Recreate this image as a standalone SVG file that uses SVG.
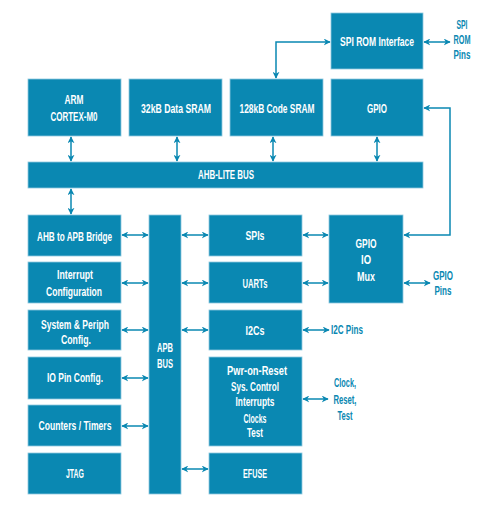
<svg xmlns="http://www.w3.org/2000/svg" width="500" height="511" viewBox="0 0 500 511">
<defs>
<marker id="ah" viewBox="0 0 10 10" refX="9" refY="5" markerWidth="7" markerHeight="7" markerUnits="userSpaceOnUse" orient="auto-start-reverse">
<path d="M0,0 L10,5 L0,10 L3,5 Z" fill="#0a88b2"/>
</marker>
</defs>
<style>
.b{fill:#0a88b2;stroke:#8ec9df;stroke-width:0.8}
.t{font-family:"Liberation Sans",Arial,sans-serif;font-size:12.5px;font-weight:bold;fill:#ffffff;text-anchor:middle}
.o{font-family:"Liberation Sans",Arial,sans-serif;font-size:12.5px;font-weight:bold;fill:#0a88b2;text-anchor:middle}
.c{fill:none;stroke:#0a88b2;stroke-width:1.5}
.d{marker-start:url(#ah);marker-end:url(#ah)}
</style>
<g id="connectors">
<path class="c d" d="M71,137 V161"/>
<path class="c d" d="M177,137 V161"/>
<path class="c d" d="M273,137 V161"/>
<path class="c d" d="M377,137 V161"/>
<path class="c d" d="M71,189 V214"/>
<path class="c d" d="M276,78 V42 H330"/>
<path class="c d" d="M424,42 H450"/>
<path class="c d" d="M424,108 H450 V235 H404"/>
<path class="c d" d="M122,235 H148"/>
<path class="c d" d="M122,283 H148"/>
<path class="c d" d="M122,330 H148"/>
<path class="c d" d="M122,378 H148"/>
<path class="c d" d="M122,426 H148"/>
<path class="c d" d="M182,235 H208"/>
<path class="c d" d="M182,283 H208"/>
<path class="c d" d="M182,330 H208"/>
<path class="c d" d="M182,469 H208"/>
<path class="c d" d="M303,235 H328"/>
<path class="c d" d="M303,283 H328"/>
<path class="c d" d="M404,283 H430"/>
<path class="c d" d="M303,330 H329"/>
<path class="c d" d="M303,399 H328"/>
</g>
<g id="spirom"><rect class="b" x="331" y="13" width="92" height="56"/><text class="t" x="377" y="46" textLength="74" lengthAdjust="spacingAndGlyphs">SPI ROM Interface</text></g>
<g id="arm"><rect class="b" x="28" y="79" width="93" height="57"/><text class="t" x="74" y="104" textLength="19" lengthAdjust="spacingAndGlyphs">ARM</text><text class="t" x="74" y="121" textLength="47" lengthAdjust="spacingAndGlyphs">CORTEX-M0</text></g>
<g id="dsram"><rect class="b" x="129" y="79" width="93" height="57"/><text class="t" x="176" y="113" textLength="70" lengthAdjust="spacingAndGlyphs">32kB Data SRAM</text></g>
<g id="csram"><rect class="b" x="230" y="79" width="93" height="57"/><text class="t" x="277" y="113" textLength="75" lengthAdjust="spacingAndGlyphs">128kB Code SRAM</text></g>
<g id="gpio"><rect class="b" x="331" y="79" width="92" height="57"/><text class="t" x="377" y="113" textLength="20" lengthAdjust="spacingAndGlyphs">GPIO</text></g>
<g id="ahb"><rect class="b" x="28" y="162" width="395" height="26"/><text class="t" x="226" y="179" textLength="56" lengthAdjust="spacingAndGlyphs">AHB-LITE BUS</text></g>
<g id="bridge"><rect class="b" x="28" y="215" width="93" height="41"/><text class="t" x="74.5" y="241" textLength="75" lengthAdjust="spacingAndGlyphs">AHB to APB Bridge</text></g>
<g id="intcfg"><rect class="b" x="28" y="262" width="93" height="41"/><text class="t" x="75" y="279" textLength="36" lengthAdjust="spacingAndGlyphs">Interrupt</text><text class="t" x="74" y="296" textLength="56" lengthAdjust="spacingAndGlyphs">Configuration</text></g>
<g id="syscfg"><rect class="b" x="28" y="310" width="93" height="40"/><text class="t" x="75" y="329" textLength="68" lengthAdjust="spacingAndGlyphs">System &amp; Periph</text><text class="t" x="76" y="344" textLength="30" lengthAdjust="spacingAndGlyphs">Config.</text></g>
<g id="iopin"><rect class="b" x="28" y="357" width="93" height="42"/><text class="t" x="75" y="382" textLength="56" lengthAdjust="spacingAndGlyphs">IO Pin Config.</text></g>
<g id="timers"><rect class="b" x="28" y="405" width="93" height="41"/><text class="t" x="75" y="430" textLength="73" lengthAdjust="spacingAndGlyphs">Counters / Timers</text></g>
<g id="jtag"><rect class="b" x="28" y="453" width="93" height="41"/><text class="t" x="75" y="478" textLength="18" lengthAdjust="spacingAndGlyphs">JTAG</text></g>
<g id="apb"><rect class="b" x="149" y="215" width="32" height="279"/><text class="t" x="165" y="352" textLength="16" lengthAdjust="spacingAndGlyphs">APB</text><text class="t" x="165" y="368" textLength="16" lengthAdjust="spacingAndGlyphs">BUS</text></g>
<g id="spis"><rect class="b" x="209" y="215" width="93" height="41"/><text class="t" x="255" y="240" textLength="19" lengthAdjust="spacingAndGlyphs">SPIs</text></g>
<g id="uarts"><rect class="b" x="209" y="262" width="93" height="41"/><text class="t" x="255" y="288" textLength="25" lengthAdjust="spacingAndGlyphs">UARTs</text></g>
<g id="i2cs"><rect class="b" x="209" y="310" width="93" height="40"/><text class="t" x="255" y="335" textLength="19" lengthAdjust="spacingAndGlyphs">I2Cs</text></g>
<g id="pwr"><rect class="b" x="209" y="357" width="93" height="89"/><text class="t" x="257" y="375" textLength="60" lengthAdjust="spacingAndGlyphs">Pwr-on-Reset</text><text class="t" x="255" y="391" textLength="48" lengthAdjust="spacingAndGlyphs">Sys. Control</text><text class="t" x="255" y="406" textLength="39" lengthAdjust="spacingAndGlyphs">Interrupts</text><text class="t" x="255" y="423" textLength="23" lengthAdjust="spacingAndGlyphs">Clocks</text><text class="t" x="255" y="437" textLength="16" lengthAdjust="spacingAndGlyphs">Test</text></g>
<g id="efuse"><rect class="b" x="209" y="453" width="93" height="41"/><text class="t" x="255" y="478" textLength="24" lengthAdjust="spacingAndGlyphs">EFUSE</text></g>
<g id="mux"><rect class="b" x="329" y="215" width="74" height="88"/><text class="t" x="366" y="248" textLength="21" lengthAdjust="spacingAndGlyphs">GPIO</text><text class="t" x="366" y="264" textLength="10" lengthAdjust="spacingAndGlyphs">IO</text><text class="t" x="366" y="281" textLength="18" lengthAdjust="spacingAndGlyphs">Mux</text></g>
<g id="labels">
<text class="o" x="462" y="29" textLength="11" lengthAdjust="spacingAndGlyphs">SPI</text><text class="o" x="462" y="44" textLength="17" lengthAdjust="spacingAndGlyphs">ROM</text><text class="o" x="462" y="59" textLength="17" lengthAdjust="spacingAndGlyphs">Pins</text>
<text class="o" x="443" y="280" textLength="20" lengthAdjust="spacingAndGlyphs">GPIO</text><text class="o" x="443" y="295" textLength="17" lengthAdjust="spacingAndGlyphs">Pins</text>
<text class="o" x="331" y="334" style="text-anchor:start" textLength="32" lengthAdjust="spacingAndGlyphs">I2C Pins</text>
<text class="o" x="345" y="387" textLength="22" lengthAdjust="spacingAndGlyphs">Clock,</text><text class="o" x="345" y="404" textLength="23" lengthAdjust="spacingAndGlyphs">Reset,</text><text class="o" x="345" y="420" textLength="15" lengthAdjust="spacingAndGlyphs">Test</text>
</g>
</svg>
